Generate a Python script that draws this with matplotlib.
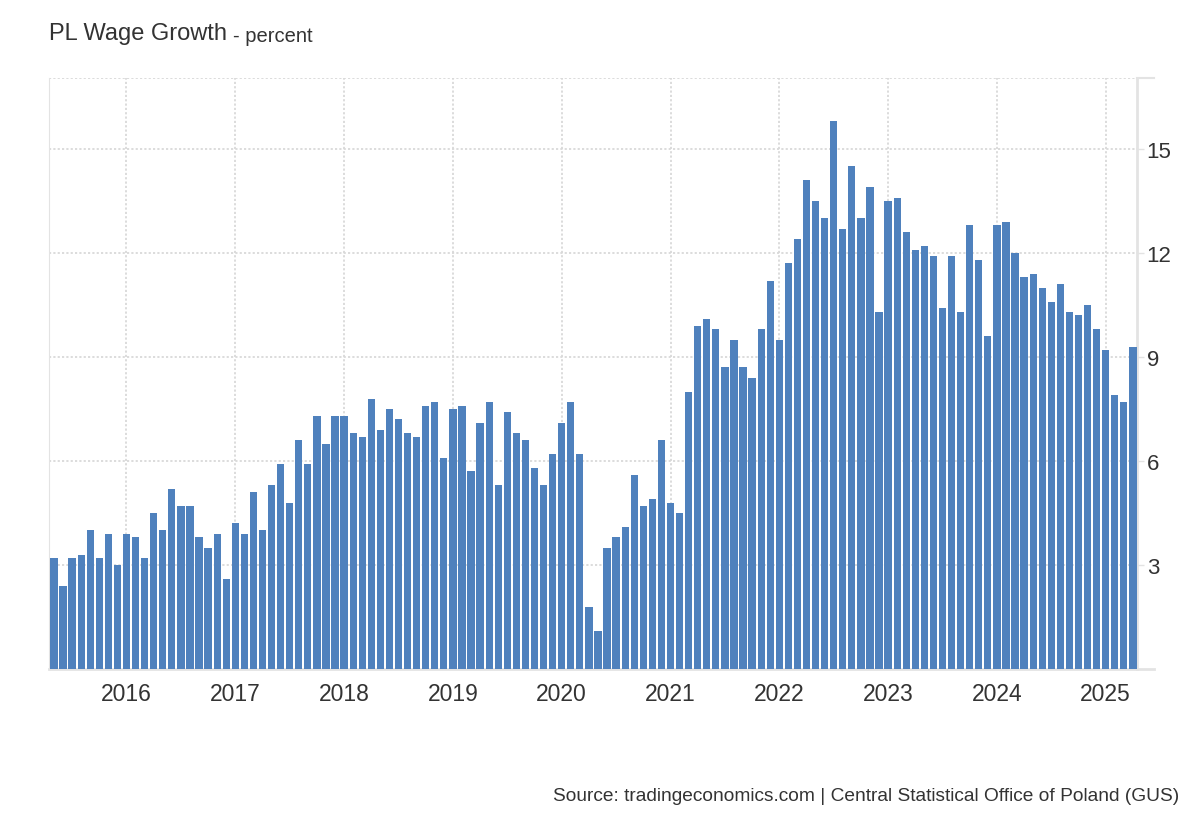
import numpy as np
import pandas as pd
import matplotlib
matplotlib.use("Agg")
import matplotlib.pyplot as plt
from matplotlib.lines import Line2D

# Dados mensais: maio 2015 -> abril 2025 (variação anual dos salários, %)
meses = pd.date_range("2015-05-01", periods=120, freq="MS")
crescimento = [
    3.2, 2.4, 3.2, 3.3, 4.0, 3.2, 3.9, 3.0,            # mai-dez 2015
    3.9, 3.8, 3.2, 4.5, 4.0, 5.2, 4.7, 4.7, 3.8, 3.5, 3.9, 2.6,   # 2016
    4.2, 3.9, 5.1, 4.0, 5.3, 5.9, 4.8, 6.6, 5.9, 7.3, 6.5, 7.3,   # 2017
    7.3, 6.8, 6.7, 7.8, 6.9, 7.5, 7.2, 6.8, 6.7, 7.6, 7.7, 6.1,   # 2018
    7.5, 7.6, 5.7, 7.1, 7.7, 5.3, 7.4, 6.8, 6.6, 5.8, 5.3, 6.2,   # 2019
    7.1, 7.7, 6.2, 1.8, 1.1, 3.5, 3.8, 4.1, 5.6, 4.7, 4.9, 6.6,   # 2020
    4.8, 4.5, 8.0, 9.9, 10.1, 9.8, 8.7, 9.5, 8.7, 8.4, 9.8,       # 2021
    11.2, 9.5, 11.7, 12.4, 14.1, 13.5, 13.0, 15.8, 12.7, 14.5, 13.0, 13.9,  # 2022
    10.3, 13.5, 13.6, 12.6, 12.1, 12.2, 11.9, 10.4, 11.9, 10.3, 12.8, 11.8,  # 2023
    9.6, 12.8, 12.9, 12.0, 11.3, 11.4, 11.0, 10.6, 11.1, 10.3, 10.2, 10.5,  # 2024
    9.8, 9.2, 7.9, 7.7, 9.3,
]
# a série tem 120 meses; o último bloco acima começa em dez/2024
crescimento = crescimento[:120]

anos = list(range(2016, 2026))
rotulos_y = [3, 6, 9, 12, 15]

cor_barra = "#4f81bd"
cor_texto = "#333333"
cor_grade = "#d9d9d9"
cor_eixo = "#e3e3e3"

plt.rcParams["font.family"] = ["Liberation Sans", "DejaVu Sans"]

fig = plt.figure(figsize=(12, 8.2), dpi=100)
ax = fig.add_axes([0.0408, 0.1829, 0.9067, 0.7208])

idx = np.arange(len(crescimento))
ax.bar(idx, crescimento, width=0.8, color=cor_barra, zorder=3)

ax.set_xlim(-0.55, len(crescimento) - 0.55)
ax.set_ylim(0, 17.05)

# posições de janeiro para os rótulos dos anos
pos_anos = [list(meses).index(pd.Timestamp(f"{a}-01-01")) for a in anos]
ax.set_xticks(pos_anos)
ax.set_xticklabels([str(a) for a in anos])
ax.set_yticks(rotulos_y)
ax.set_yticklabels([str(v) for v in rotulos_y])

ax.yaxis.tick_right()
ax.tick_params(axis="x", length=0, pad=9, labelsize=16.5, labelcolor=cor_texto)
ax.tick_params(axis="y", length=5, width=1, color=cor_eixo, pad=2,
               labelsize=16, labelcolor=cor_texto)

ax.grid(True, linestyle=(0, (1.2, 1.2)), color=cor_grade, linewidth=1.3, zorder=0)
ax.axhline(17.05, linestyle=(0, (1.2, 1.2)), color=cor_grade, linewidth=1.3, zorder=0)

ax.spines["top"].set_visible(False)
ax.spines["left"].set_color(cor_eixo)
ax.spines["right"].set_color(cor_eixo)
ax.spines["right"].set_linewidth(2)
ax.spines["bottom"].set_color(cor_eixo)
ax.spines["bottom"].set_linewidth(2)

# prolongamento da linha de base e da marca superior além do eixo direito
ax.add_line(Line2D([1.0, 1.016], [0, 0], transform=ax.transAxes,
                   color=cor_eixo, linewidth=2, clip_on=False))
ax.add_line(Line2D([1.0, 1.016], [1, 1], transform=ax.transAxes,
                   color=cor_eixo, linewidth=1.5, clip_on=False))

# Título
t = fig.text(0.0408, 0.958, "PL Wage Growth", fontsize=17, color=cor_texto,
             va="center", ha="left")
fig.canvas.draw()
bb = t.get_window_extent()
x_fim = bb.x1 / fig.bbox.width
fig.text(x_fim + 0.005, 0.956, "- percent", fontsize=14.5, color=cor_texto,
         va="center", ha="left")

# Fonte
fig.text(0.983, 0.029, "Source: tradingeconomics.com | Central Statistical Office of Poland (GUS)",
         fontsize=13.8, color=cor_texto, ha="right", va="center")

plt.savefig("out.png", dpi=100)
